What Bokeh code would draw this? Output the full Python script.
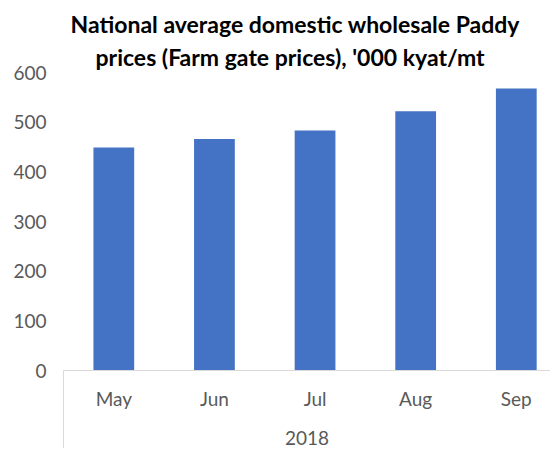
from bokeh.plotting import figure
from bokeh.models import Range1d, FixedTicker, Title
from bokeh.embed import file_html
from bokeh.resources import INLINE

months = ["May", "Jun", "Jul", "Aug", "Sep"]
prices = [449, 466, 483, 522, 568]
year_label = "2018"
y_ticks = [0, 100, 200, 300, 400, 500, 600]
title_line1 = "National average domestic wholesale Paddy"
title_line2 = "prices (Farm gate prices), '000 kyat/mt"

FONT = "Lato"
TXT = "#595959"
BAR = "#4472C4"

x = [i + 0.5 for i in range(len(months))]

p = figure(width=550, height=448, output_backend="svg", toolbar_location=None,
           title=None,
           x_range=Range1d(0, 4.84), y_range=Range1d(0, 600),
           min_border_left=63, min_border_right=0, min_border_top=72,
           min_border_bottom=78)
p.outline_line_color = None
p.background_fill_color = "white"
p.border_fill_color = "white"

p.vbar(x=x, top=prices, width=0.405, fill_color=BAR, line_color=None)

# titles (line 2 nearest plot)
for t, so, off in ((title_line2, 4, 32), (title_line1, 1, 7)):
    p.add_layout(Title(text=t, align="left", offset=off, text_font=FONT,
                       text_font_style="bold", text_font_size="23px",
                       text_color="#000000", standoff=so), "above")

p.xgrid.visible = False
p.ygrid.visible = False

ya = p.yaxis[0]
ya.ticker = FixedTicker(ticks=y_ticks)
ya.axis_line_color = None
ya.major_tick_line_color = None
ya.minor_tick_line_color = None
ya.major_tick_out = 0
ya.major_tick_in = 0
ya.major_label_standoff = 17
ya.major_label_text_font = FONT
ya.major_label_text_font_size = "19px"
ya.major_label_text_color = TXT

xa = p.xaxis[0]
xa.ticker = FixedTicker(ticks=x, minor_ticks=[0])
xa.major_label_overrides = {xi: m for xi, m in zip(x, months)}
xa.axis_line_color = "#D9D9D9"
xa.axis_line_width = 1
xa.major_tick_line_color = None
xa.major_tick_out = 0
xa.major_tick_in = 0
xa.minor_tick_line_color = "#D9D9D9"
xa.minor_tick_out = 78
xa.minor_tick_in = 0
xa.major_label_standoff = -62
xa.major_label_text_font = FONT
xa.major_label_text_font_size = "19px"
xa.major_label_text_color = TXT
xa.axis_label = year_label
xa.axis_label_text_font = FONT
xa.axis_label_text_font_style = "normal"
xa.axis_label_text_font_size = "19px"
xa.axis_label_text_color = TXT
xa.axis_label_standoff = 18

open("out.html", "w").write(file_html(p, INLINE))
